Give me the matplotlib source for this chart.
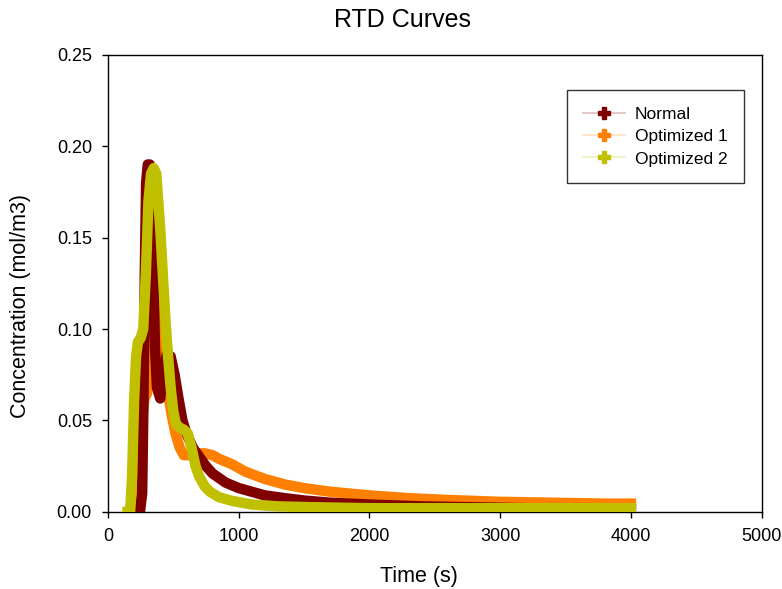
import numpy as np
import matplotlib
matplotlib.use("Agg")
import matplotlib.pyplot as plt
from matplotlib.lines import Line2D
from matplotlib.colors import to_rgb

plt.rcParams['font.family'] = ['Liberation Sans', 'DejaVu Sans']

# values (time in s, concentration in mol/m3)
t_normal = [200, 245, 262, 272, 282, 292, 305, 320, 335, 348, 360, 375, 400, 420,
            450, 480, 510, 540, 570, 600, 650, 700, 750, 800, 900, 1000, 1100,
            1200, 1350, 1500, 1700, 2000, 2400, 2800, 3200, 3600, 4000]
c_normal = [0.0, 0.0, 0.01, 0.06, 0.13, 0.18, 0.19, 0.19, 0.175, 0.13, 0.09,
            0.068, 0.062, 0.075, 0.086, 0.085, 0.075, 0.062, 0.05, 0.043, 0.035,
            0.03, 0.025, 0.021, 0.016, 0.013, 0.011, 0.009, 0.0075, 0.0062,
            0.005, 0.004, 0.003, 0.0025, 0.002, 0.002, 0.0015]

t_opt1 = [190, 220, 240, 260, 280, 300, 320, 335, 345, 355, 365, 380, 400, 430,
          460, 490, 520, 550, 580, 620, 680, 740, 800, 850, 950, 1050, 1200, 1350,
          1500, 1700, 2000, 2300, 2600, 3000, 3400, 3800, 4000]
c_opt1 = [0.0, 0.0, 0.02, 0.05, 0.062, 0.065, 0.075, 0.08, 0.10, 0.125, 0.11,
          0.09, 0.08, 0.075, 0.065, 0.052, 0.042, 0.035, 0.031, 0.031, 0.032,
          0.032, 0.031, 0.029, 0.026, 0.022, 0.018, 0.015, 0.013, 0.011, 0.009,
          0.0075, 0.0065, 0.0055, 0.005, 0.0045, 0.0045]

t_opt2 = [150, 170, 185, 200, 215, 230, 250, 270, 290, 310, 330, 350, 370, 385,
          400, 420, 440, 460, 480, 500, 520, 550, 580, 610, 640, 670, 700, 740,
          780, 850, 950, 1100, 1300, 1600, 2000, 2500, 3000, 3500, 4000]
c_opt2 = [0.0, 0.0, 0.02, 0.06, 0.085, 0.093, 0.095, 0.10, 0.13, 0.17, 0.185,
          0.188, 0.185, 0.17, 0.155, 0.13, 0.105, 0.085, 0.068, 0.055, 0.048,
          0.046, 0.045, 0.043, 0.035, 0.025, 0.019, 0.014, 0.011, 0.008, 0.006,
          0.004, 0.003, 0.0025, 0.002, 0.002, 0.002, 0.002, 0.002]

names = ["Normal", "Optimized 1", "Optimized 2"]
colors = ["#800000", "#FF8000", "#C0C000"]

fig = plt.figure(figsize=(7.82, 5.89), dpi=100)
ax = fig.add_axes([0.138, 0.131, 0.836, 0.776])

# draw order: orange under red, green on top
ax.plot(t_opt1, c_opt1, color=colors[1], lw=7.5, solid_joinstyle='round', zorder=2)
ax.plot(t_normal, c_normal, color=colors[0], lw=7.5, solid_joinstyle='round', zorder=3)
ax.plot(t_opt2, c_opt2, color=colors[2], lw=7.5, solid_joinstyle='round', zorder=4)

ax.set_xlim(0, 5000)
ax.set_ylim(0, 0.25)
ax.set_xticks(np.arange(0, 5001, 1000))
ax.set_yticks(np.arange(0, 0.251, 0.05))
ax.yaxis.set_major_formatter(matplotlib.ticker.FormatStrFormatter('%.2f'))
ax.tick_params(direction='out', length=4.5, width=1, labelsize=13, pad=7)
for sp in ax.spines.values():
    sp.set_linewidth(1)

fig.text(0.515, 1 - 20 / 589, "RTD Curves", fontsize=18, ha='center', va='center')
ax.set_xlabel("Time (s)", fontsize=15.5)
ax.xaxis.set_label_coords(0.476, -0.118)
ax.set_ylabel("Concentration (mol/m3)", fontsize=15.5)
ax.yaxis.set_label_coords(-0.118, 0.45)

def pale(c, f=0.75):
    r, g, b = to_rgb(c)
    return (r + (1 - r) * f, g + (1 - g) * f, b + (1 - b) * f)

handles = [Line2D([], [], color=pale(c), lw=1.2, marker='P', markersize=9,
                  markerfacecolor=c, markeredgecolor=c) for c in colors]
leg = ax.legend(handles, names, loc='upper left', bbox_to_anchor=(0.702, 0.923),
                borderaxespad=0, fontsize=12.5, frameon=True, fancybox=False,
                handlelength=2.4, borderpad=0.95, labelspacing=0.42,
                handletextpad=0.55)
leg.get_frame().set_edgecolor('black')
leg.get_frame().set_linewidth(1)

fig.savefig("out.png", dpi=100)
